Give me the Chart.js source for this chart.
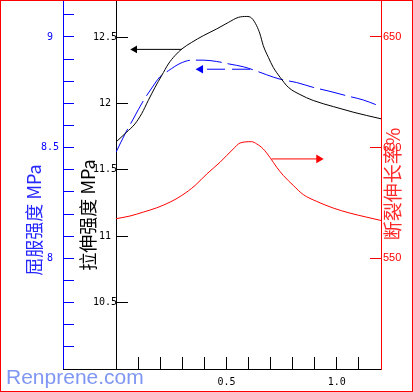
<!DOCTYPE html>
<html><head><meta charset="utf-8">
<script src="https://cdn.jsdelivr.net/npm/chart.js@4/dist/chart.umd.min.js"></script>
<style>html,body{margin:0;padding:0;background:#fff}canvas{display:block}</style>
</head><body>
<canvas id="c" width="413" height="392"></canvas>
<script>
// ---- data (x = shared horizontal variable) ----
const tensileX = [0, 0.048, 0.086, 0.116, 0.146, 0.177, 0.207, 0.237, 0.267, 0.298, 0.343, 0.395, 0.456, 0.509, 0.554, 0.592, 0.614, 0.637, 0.652, 0.667, 0.690, 0.712, 0.743, 0.780, 0.833, 0.893, 0.984, 1.074, 1.135, 1.2];
const tensileY = [11.71, 11.784, 11.847, 11.923, 12.023, 12.123, 12.211, 12.298, 12.361, 12.411, 12.461, 12.511, 12.562, 12.611, 12.649, 12.656, 12.644, 12.586, 12.524, 12.436, 12.348, 12.273, 12.198, 12.123, 12.068, 12.023, 11.977, 11.935, 11.910, 11.885];

const yieldX = [0, 0.041, 0.078, 0.124, 0.162, 0.199, 0.237, 0.290, 0.343, 0.395, 0.456, 0.516, 0.577, 0.622, 0.682, 0.743, 0.818, 0.893, 0.969, 1.045, 1.120, 1.2];
const yieldY = [8.479, 8.562, 8.629, 8.712, 8.769, 8.820, 8.847, 8.880, 8.895, 8.895, 8.889, 8.877, 8.865, 8.851, 8.829, 8.809, 8.794, 8.772, 8.754, 8.734, 8.715, 8.685];

const elongX = [0, 0.063, 0.124, 0.184, 0.245, 0.298, 0.358, 0.411, 0.471, 0.531, 0.562, 0.614, 0.637, 0.667, 0.697, 0.728, 0.758, 0.803, 0.848, 0.909, 0.984, 1.060, 1.135, 1.2];
const elongY = [567.9, 569.1, 570.9, 572.8, 575.4, 578.4, 582.9, 588.1, 593.4, 599.4, 602.1, 602.7, 601.7, 599.4, 595.6, 591.1, 587.4, 582.9, 578.8, 575.7, 572.7, 570.4, 568.6, 567.1];

// arrows pointing to each curve's axis (x: tail, head), at a fixed value
const tensileArrowX = [0.298, 0.085]; const tensileArrowY = 12.408;
const yieldArrowX = [0.607, 0.383];   const yieldArrowY = 8.854;
const elongArrowX = [0.705, 0.918];   const elongArrowY = 594.9;

// ---- tick labels ----
const xLabelValues = [0.5, 1.0];
const yieldLabelValues = [8, 8.5, 9];
const tensileLabelValues = [10.5, 11, 11.5, 12, 12.5];
const elongLabelValues = [550, 600, 650];

const toPts = (xs, ys) => xs.map((x, i) => ({x, y: Array.isArray(ys) ? ys[i] : ys}));
// arrow: tail, head (with marker), head again (so the marker is not an end point)
const arrowPts = (xs, y) => [{x: xs[0], y}, {x: xs[1], y}, {x: xs[1], y}];
const pick = (vals, v, fmt) => { const m = vals.find(l => Math.abs(l - v) < 1e-6); return m === undefined ? '' : fmt(m); };
const inRange = (lo, hi) => s => { s.ticks = s.ticks.filter(t => t.value > lo && t.value < hi); };

const monoFont = {family: '"DejaVu Sans Mono", monospace', size: 10};

const extras = {
  id: 'extras',
  afterDraw(chart) {
    const ctx = chart.ctx;
    const xs = chart.scales.x, yb = chart.scales.yYield, yk = chart.scales.yTensile;
    ctx.save();
    ctx.strokeStyle = '#000'; ctx.lineWidth = 1;
    ctx.beginPath(); ctx.moveTo(yb.right, Math.round(xs.top) + 0.5); ctx.lineTo(yk.right, Math.round(xs.top) + 0.5); ctx.stroke();
    const vert = (txt, cx, cy, color, size) => {
      ctx.save(); ctx.translate(cx, cy); ctx.rotate(-Math.PI / 2);
      ctx.fillStyle = color; ctx.font = size + 'px "Noto Sans CJK SC", sans-serif';
      ctx.textAlign = 'center'; ctx.textBaseline = 'middle';
      ctx.fillText(txt, 0, 0); ctx.restore();
    };
    vert('屈服强度 MPa', 34, 220, '#2626ff', 18);
    vert('拉伸强度 MPa', 88, 215, '#000000', 18);
    vert('断裂伸长率%', 393, 184, '#ff2a2a', 19);
    ctx.fillStyle = '#7f96f2'; ctx.font = '21px "Liberation Sans", Arial, sans-serif';
    ctx.textAlign = 'left'; ctx.textBaseline = 'alphabetic';
    ctx.fillText('Renprene.com', 6, 384);
    ctx.strokeStyle = '#ff0000'; ctx.strokeRect(0.5, 0.5, chart.width - 1, chart.height - 1);
    ctx.restore();
  }
};

new Chart(document.getElementById('c'), {
  type: 'line',
  data: {
    datasets: [
      {data: toPts(tensileX, tensileY), yAxisID: 'yTensile', borderColor: '#000', borderWidth: 1, pointRadius: 0, pointBorderWidth: 0, cubicInterpolationMode: 'monotone'},
      {data: toPts(yieldX, yieldY), yAxisID: 'yYield', borderColor: '#0000ff', borderWidth: 1, borderDash: [26, 6], pointRadius: 0, pointBorderWidth: 0, cubicInterpolationMode: 'monotone'},
      {data: toPts(elongX, elongY), yAxisID: 'yElong', borderColor: '#ff0000', borderWidth: 1, pointRadius: 0, pointBorderWidth: 0, cubicInterpolationMode: 'monotone'},
      {data: arrowPts(tensileArrowX, tensileArrowY), yAxisID: 'yTensile', borderColor: '#000', backgroundColor: '#000', borderWidth: 1, pointBorderWidth: 0, pointStyle: 'triangle', pointRadius: [0, 4.5, 0], pointRotation: [0, 270, 0]},
      {data: arrowPts(yieldArrowX, yieldArrowY), yAxisID: 'yYield', borderColor: '#0000ff', backgroundColor: '#0000ff', borderWidth: 1, borderDash: [18, 7], pointBorderWidth: 0, pointStyle: 'triangle', pointRadius: [0, 5, 0], pointRotation: [0, 270, 0]},
      {data: arrowPts(elongArrowX, elongArrowY), yAxisID: 'yElong', borderColor: '#ff0000', backgroundColor: '#ff0000', borderWidth: 1, pointBorderWidth: 0, pointStyle: 'triangle', pointRadius: [0, 5, 0], pointRotation: [0, 90, 0]}
    ]
  },
  options: {
    responsive: false, animation: false,
    layout: {padding: 0},
    plugins: {legend: {display: false}, tooltip: {enabled: false}},
    scales: {
      x: {
        type: 'linear', position: 'bottom', min: 0, max: 1.2,
        ticks: {stepSize: 0.1, autoSkip: false, maxRotation: 0, padding: 19, color: '#000', font: monoFont,
          callback: v => pick(xLabelValues, v, m => m.toFixed(1))},
        grid: {display: true, drawOnChartArea: false, drawTicks: true, tickLength: -12, color: '#000', tickColor: '#000'},
        border: {display: true, color: '#000', width: 1},
        afterBuildTicks: inRange(0.05, 1.15),
        afterFit: s => { s.height = 23; s.paddingLeft = 0; s.paddingRight = 0; }
      },
      yYield: {
        type: 'linear', position: 'left', weight: 1, min: 7.5, max: 9.1667,
        ticks: {stepSize: 0.1, autoSkip: false, crossAlign: 'center', padding: 15, color: '#0000ff', font: monoFont,
          callback: v => pick(yieldLabelValues, v, m => String(m))},
        grid: {display: true, drawOnChartArea: false, drawTicks: true, tickLength: -11, color: '#0000ff', tickColor: '#0000ff'},
        border: {display: true, color: '#0000ff', width: 1},
        afterBuildTicks: inRange(7.55, 9.15),
        afterFit: s => { s.width = 63; s.paddingTop = 0; s.paddingBottom = 0; }
      },
      yTensile: {
        type: 'linear', position: 'left', weight: 0, min: 10, max: 12.78,
        ticks: {stepSize: 0.5, autoSkip: false, crossAlign: 'center', padding: 11, color: '#000', font: monoFont,
          callback: v => pick(tensileLabelValues, v, m => String(m))},
        grid: {display: true, drawOnChartArea: false, drawTicks: true, tickLength: -12, color: '#000', tickColor: '#000'},
        border: {display: true, color: '#000', width: 1},
        afterBuildTicks: inRange(10.25, 12.6),
        afterFit: s => { s.width = 53; s.paddingTop = 0; s.paddingBottom = 0; }
      },
      yElong: {
        type: 'linear', position: 'right', min: 500, max: 666.7,
        ticks: {stepSize: 50, autoSkip: false, crossAlign: 'near', padding: 13, color: '#ff0000', font: {family: '"Liberation Sans", Arial, sans-serif', size: 11},
          callback: v => pick(elongLabelValues, v, m => String(m))},
        grid: {display: true, drawOnChartArea: false, drawTicks: true, tickLength: -11, color: '#ff0000', tickColor: '#ff0000'},
        border: {display: true, color: '#ff0000', width: 1},
        afterBuildTicks: inRange(525, 660),
        afterFit: s => { s.width = 32; s.paddingTop = 0; s.paddingBottom = 0; }
      }
    }
  },
  plugins: [extras]
});
</script>
</body></html>
